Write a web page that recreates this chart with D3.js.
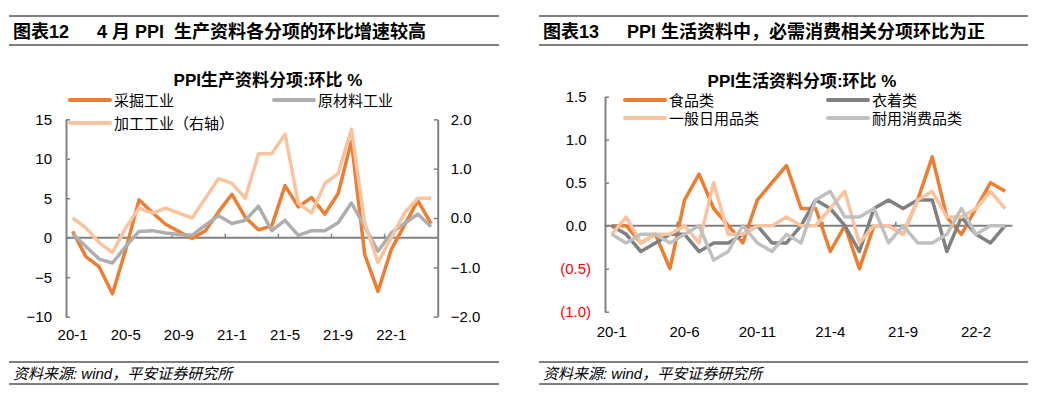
<!DOCTYPE html>
<html>
<head>
<meta charset="utf-8">
<script src="https://cdn.jsdelivr.net/npm/d3@7"></script>
<style>
  body { margin: 0; background: #fff; }
  svg { display: block; font-family: "Liberation Sans", "Noto Sans CJK SC", sans-serif; }
  .keep { white-space: pre; }
</style>
</head>
<body>
<svg id="chart" width="1042" height="395"></svg>
<script>
// months 20-1 .. 22-4
const months = ["20-1","20-2","20-3","20-4","20-5","20-6","20-7","20-8","20-9","20-10","20-11","20-12",
  "21-1","21-2","21-3","21-4","21-5","21-6","21-7","21-8","21-9","21-10","21-11","21-12",
  "22-1","22-2","22-3","22-4"];

// left chart: PPI 生产资料
const mining = [0.8,-2.4,-3.7,-7.1,-1.5,4.8,3.2,1.7,0.8,-0.1,0.9,3.3,5.5,2.6,1.0,1.5,6.6,3.9,5.1,3.0,5.6,12.2,-2.1,-6.8,-1.5,1.6,4.7,1.8];
const rawMat = [0.5,-1.1,-2.7,-3.2,-1.1,0.8,0.9,0.6,0.4,0.3,1.6,2.8,1.8,2.2,4.0,0.9,2.2,0.3,0.9,0.9,1.9,4.4,1.4,-1.7,0.6,1.8,3.0,1.4];
const processing = [0.0,-0.2,-0.5,-0.7,-0.2,0.2,0.1,0.2,0.1,0.0,0.4,0.8,0.7,0.4,1.3,1.3,1.7,0.3,0.1,0.7,0.9,1.8,-0.1,-0.9,-0.4,0.1,0.4,0.4];
const leftTicks = [-10,-5,0,5,10,15];
const rightTicks = [-2,-1,0,1,2];

// right chart: PPI 生活资料
const food = [0.0,0.0,-0.2,-0.1,-0.5,0.3,0.6,0.2,0.0,-0.2,0.3,0.5,0.7,0.2,0.2,-0.3,0.0,-0.5,0.0,0.0,-0.1,0.3,0.8,0.1,-0.1,0.2,0.5,0.4];
const clothing = [0.0,-0.1,-0.3,-0.2,-0.1,-0.1,-0.3,-0.2,-0.2,-0.1,0.0,-0.2,-0.2,0.0,0.3,0.2,0.0,-0.3,0.2,0.3,0.2,0.3,0.3,-0.3,0.1,-0.1,-0.2,0.0];
const daily = [-0.1,0.1,-0.2,-0.1,-0.1,0.0,-0.2,0.5,-0.1,-0.1,0.0,0.0,0.1,0.0,0.0,0.2,0.4,-0.2,0.0,0.0,-0.1,0.3,0.4,0.1,0.1,0.2,0.4,0.2];
const durable = [-0.1,-0.2,-0.1,-0.1,-0.2,-0.1,0.0,-0.4,-0.3,0.0,-0.2,-0.3,-0.1,-0.2,0.3,0.4,0.1,0.1,0.2,-0.2,0.0,-0.2,-0.2,-0.1,0.2,-0.1,0.0,0.0];
const lifeTicks = [-1,-0.5,0,0.5,1,1.5];

const svg = d3.select("#chart");
const axisColor = "#808080";

function header(x0, x1, num, title) {
  svg.append("line").attr("x1", x0).attr("x2", x1).attr("y1", 16).attr("y2", 16).attr("stroke", "#000");
  svg.append("line").attr("x1", x0).attr("x2", x1).attr("y1", 45).attr("y2", 45).attr("stroke", "#000");
  svg.append("text").attr("x", x0 + 4).attr("y", 38).attr("font-size", 18).attr("font-weight", "bold").text(num);
  svg.append("text").attr("class", "keep").attr("x", x0 + 88).attr("y", 38)
    .attr("font-size", 18).attr("font-weight", "bold").text(title);
  svg.append("line").attr("x1", x0).attr("x2", x1).attr("y1", 362).attr("y2", 362).attr("stroke", "#000");
  svg.append("line").attr("x1", x0).attr("x2", x1).attr("y1", 384).attr("y2", 384).attr("stroke", "#000");
  svg.append("text").attr("x", x0 + 4).attr("y", 379).attr("font-size", 15).attr("font-style", "italic")
    .text("资料来源: wind，平安证券研究所");
}

function legend(items) {
  const g = svg.append("g").attr("font-size", 15);
  items.forEach(d => {
    g.append("line").attr("x1", d.x).attr("x2", d.x + 40).attr("y1", d.y).attr("y2", d.y)
      .attr("stroke", d.color).attr("stroke-width", 4).attr("stroke-linecap", "round");
    g.append("text").attr("x", d.x + 44).attr("y", d.y + 5.5).text(d.name);
  });
}

function drawLine(x, y, values, color) {
  const line = d3.line().x((d, i) => x(months[i]) + x.bandwidth() / 2).y(d => y(d));
  svg.append("path").datum(values)
    .attr("fill", "none").attr("stroke", color).attr("stroke-width", 3.5)
    .attr("stroke-linejoin", "round").attr("d", line);
}

function xAxis(x, y0, every, labelY) {
  const g = svg.append("g");
  g.append("line").attr("x1", x.range()[0]).attr("x2", x.range()[1]).attr("y1", y0).attr("y2", y0)
    .attr("stroke", axisColor).attr("stroke-width", 2);
  g.selectAll(".xt").data(months.filter((d, i) => i > 0 && i % every === 0)).join("line")
    .attr("x1", d => x(d)).attr("x2", d => x(d)).attr("y1", y0).attr("y2", y0 - 4)
    .attr("stroke", axisColor).attr("stroke-width", 1.5);
  g.selectAll(".xl").data(months.filter((d, i) => i % every === 0)).join("text")
    .attr("x", d => x(d) + x.bandwidth() / 2).attr("y", labelY)
    .attr("text-anchor", "middle").attr("font-size", 15).text(d => d);
}

function styleAxis(g) {
  g.select(".domain").attr("stroke", axisColor).attr("stroke-width", 2);
  g.selectAll(".tick line").attr("stroke", axisColor).attr("stroke-width", 1.5);
  g.selectAll("text").attr("font-size", 15).attr("fill", "#000")
    .attr("font-family", "Liberation Sans, sans-serif");
}

// ---------- left chart ----------
header(9, 499, "图表12", "4 月 PPI  生产资料各分项的环比增速较高");
svg.append("text").attr("x", 268).attr("y", 86).attr("text-anchor", "middle")
  .attr("font-size", 17).attr("font-weight", "bold").text("PPI生产资料分项:环比 %");

const xL = d3.scaleBand().domain(months).range([66, 437.7]);
const yL = d3.scaleLinear().domain([-10, 15]).range([316.7, 119.3]);
const yR = d3.scaleLinear().domain([-2, 2]).range([316.7, 119.3]);

svg.append("g").attr("transform", "translate(66,0)")
  .call(d3.axisLeft(yL).tickValues(leftTicks).tickSizeInner(-4).tickSizeOuter(0).tickPadding(14))
  .call(styleAxis);
svg.append("g").attr("transform", "translate(437.7,0)")
  .call(d3.axisRight(yR).tickValues(rightTicks).tickSizeInner(-4).tickSizeOuter(0).tickPadding(13)
    .tickFormat(d3.format(".1f")))
  .call(styleAxis);
xAxis(xL, yL(0), 4, 340);

drawLine(xL, yL, mining, "#ED7D31");
drawLine(xL, yL, rawMat, "#AEAEAE");
drawLine(xL, yR, processing, "#F8C39E");

legend([
  { name: "采掘工业", color: "#ED7D31", x: 70, y: 100 },
  { name: "原材料工业", color: "#AEAEAE", x: 274, y: 100 },
  { name: "加工工业（右轴）", color: "#F8C39E", x: 70, y: 123 }
]);

// ---------- right chart ----------
header(539, 1028, "图表13", "PPI 生活资料中，必需消费相关分项环比为正");
svg.append("text").attr("x", 802).attr("y", 87).attr("text-anchor", "middle")
  .attr("font-size", 17).attr("font-weight", "bold").text("PPI生活资料分项:环比 %");

const xR = d3.scaleBand().domain(months).range([604.4, 1012.4]);
const yLife = d3.scaleLinear().domain([-1, 1.5]).range([311.7, 96.7]);
const fmt = d3.format(".1f");

svg.append("g").attr("transform", "translate(605,0)")
  .call(d3.axisLeft(yLife).tickValues(lifeTicks).tickSizeInner(-4).tickSizeOuter(0).tickPadding(14)
    .tickFormat(d => d < 0 ? "(" + fmt(-d) + ")" : fmt(d)))
  .call(styleAxis)
  .call(g => g.selectAll(".tick text")
    .attr("fill", d => d < 0 ? "#FF0000" : "#000")
    .attr("dx", d => d < 0 ? 0 : -4.5));
xAxis(xR, yLife(0), 5, 337);

drawLine(xR, yLife, food, "#ED7D31");
drawLine(xR, yLife, clothing, "#808080");
drawLine(xR, yLife, daily, "#F8C39E");
drawLine(xR, yLife, durable, "#C0C0C0");

legend([
  { name: "食品类", color: "#ED7D31", x: 625, y: 100 },
  { name: "衣着类", color: "#808080", x: 828, y: 100 },
  { name: "一般日用品类", color: "#F8C39E", x: 625, y: 118 },
  { name: "耐用消费品类", color: "#C0C0C0", x: 828, y: 118 }
]);
</script>
</body>
</html>
